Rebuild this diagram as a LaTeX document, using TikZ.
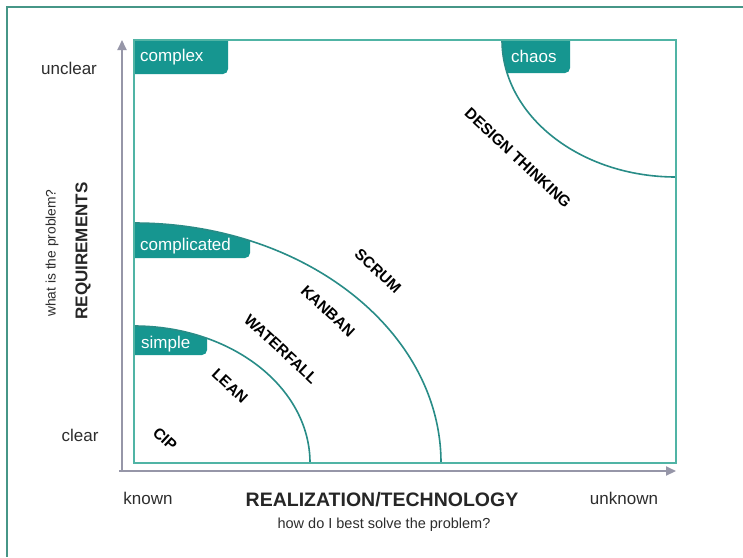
\documentclass[tikz,border=0pt]{standalone}
\usepackage{fontspec}
\setmainfont{Liberation Sans}
\usetikzlibrary{arrows.meta}
\definecolor{frameteal}{RGB}{70,150,135}
\definecolor{boxteal}{RGB}{80,180,165}
\definecolor{tabteal}{RGB}{22,150,144}
\definecolor{arcteal}{RGB}{40,140,135}
\definecolor{axisgrey}{RGB}{150,150,168}
\definecolor{labelgrey}{RGB}{45,45,45}

\begin{document}
\begin{tikzpicture}[x=1pt,y=-1pt,
  endlabel/.style={font=\fontsize{17}{20}\selectfont, text=labelgrey, inner sep=0pt},
  tablabel/.style={font=\fontsize{17}{20}\selectfont, text=white, anchor=west, inner sep=0pt},
  method/.style={font=\bfseries\fontsize{15.5}{18}\selectfont, rotate=-43, inner sep=0pt},
  axistitle/.style={font=\bfseries\fontsize{19.5}{22}\selectfont, text=black!85, inner sep=0pt},
  axisnote/.style={font=\fontsize{14.5}{17}\selectfont, text=labelgrey, inner sep=0pt},
  axisline/.style={draw=axisgrey, line width=2pt, -{Triangle[length=10pt,width=9pt]}},
  zone/.style={draw=arcteal, line width=1.6pt},
  tabfill/.style={fill=tabteal, rounded corners=5pt}
]
\useasboundingbox (0,0) rectangle (743,557);
\fill[white] (0,0) rectangle (743,557);

% page frame (top and left edges)
\draw[frameteal, line width=2pt] (743,7) -- (7,7) -- (7,557);

% named corners of the matrix and axis ends
\coordinate (origin) at (122,471);
\coordinate (ytip) at (122,40);
\coordinate (xtip) at (676,471);

% tabs, clipped to the matrix area (and to their zone where curved)
\begin{scope}
  \clip (134,40) rectangle (676,463);
  \fill[tabfill] (100,0) rectangle (228,74);
  \begin{scope}
    \clip (676,40) ellipse [x radius=174, y radius=137];
    \fill[tabfill] (480,0) rectangle (570,73);
  \end{scope}
  \begin{scope}
    \clip (134,463) ellipse [x radius=307, y radius=240];
    \fill[tabfill] (100,180) rectangle (250,258);
  \end{scope}
  \begin{scope}
    \clip (134,463) ellipse [x radius=176, y radius=137];
    \fill[tabfill] (100,300) rectangle (207,355);
  \end{scope}
\end{scope}

% zone boundaries
\draw[zone] (134,223) arc[start angle=270, end angle=360, x radius=307, y radius=240];
\draw[zone] (134,326) arc[start angle=270, end angle=360, x radius=176, y radius=137];
\draw[zone] (502,40) arc[start angle=180, end angle=90, x radius=174, y radius=137];

% matrix frame
\draw[boxteal, line width=2pt] (134,40) rectangle (676,463);

% axes
\draw[axisline] (origin) ++(-3,0) -- (xtip);
\draw[axisline] (origin) ++(0,1) -- (ytip);

% zone names
\node[tablabel] (complex) at (140,57) {complex};
\node[tablabel] (chaos) at (511,56) {chaos};
\node[tablabel] (complicated) at (140,246) {complicated};
\node[tablabel] (simple) at (141,344) {simple};

% methods
\node[method] (dt) at (518,158) {DESIGN THINKING};
\node[method] (scrum) at (378,271) {SCRUM};
\node[method] (kanban) at (328,311) {KANBAN};
\node[method] (waterfall) at (281,349) {WATERFALL};
\node[method] (lean) at (230,386) {LEAN};
\node[method] (cip) at (165,439) {CIP};

% axis end labels
\node[endlabel] (unclear) at (69,68) {unclear};
\node[endlabel] (clear) at (80,435) {clear};
\node[endlabel] (known) at (148,498) {known};
\node[endlabel] (unknown) at (624,498) {unknown};

% axis titles
\node[axistitle] (xtitle) at (382,500) {REALIZATION/TECHNOLOGY};
\node[axisnote] (xnote) at (384,525) {how do I best solve the problem?};
\node[axistitle, font=\bfseries\fontsize{17}{20}\selectfont, rotate=90] (ytitle) at (83,251) {REQUIREMENTS};
\node[axisnote, font=\fontsize{13.8}{16}\selectfont, rotate=90] (ynote) at (52,253) {what is the problem?};
\end{tikzpicture}
\end{document}
